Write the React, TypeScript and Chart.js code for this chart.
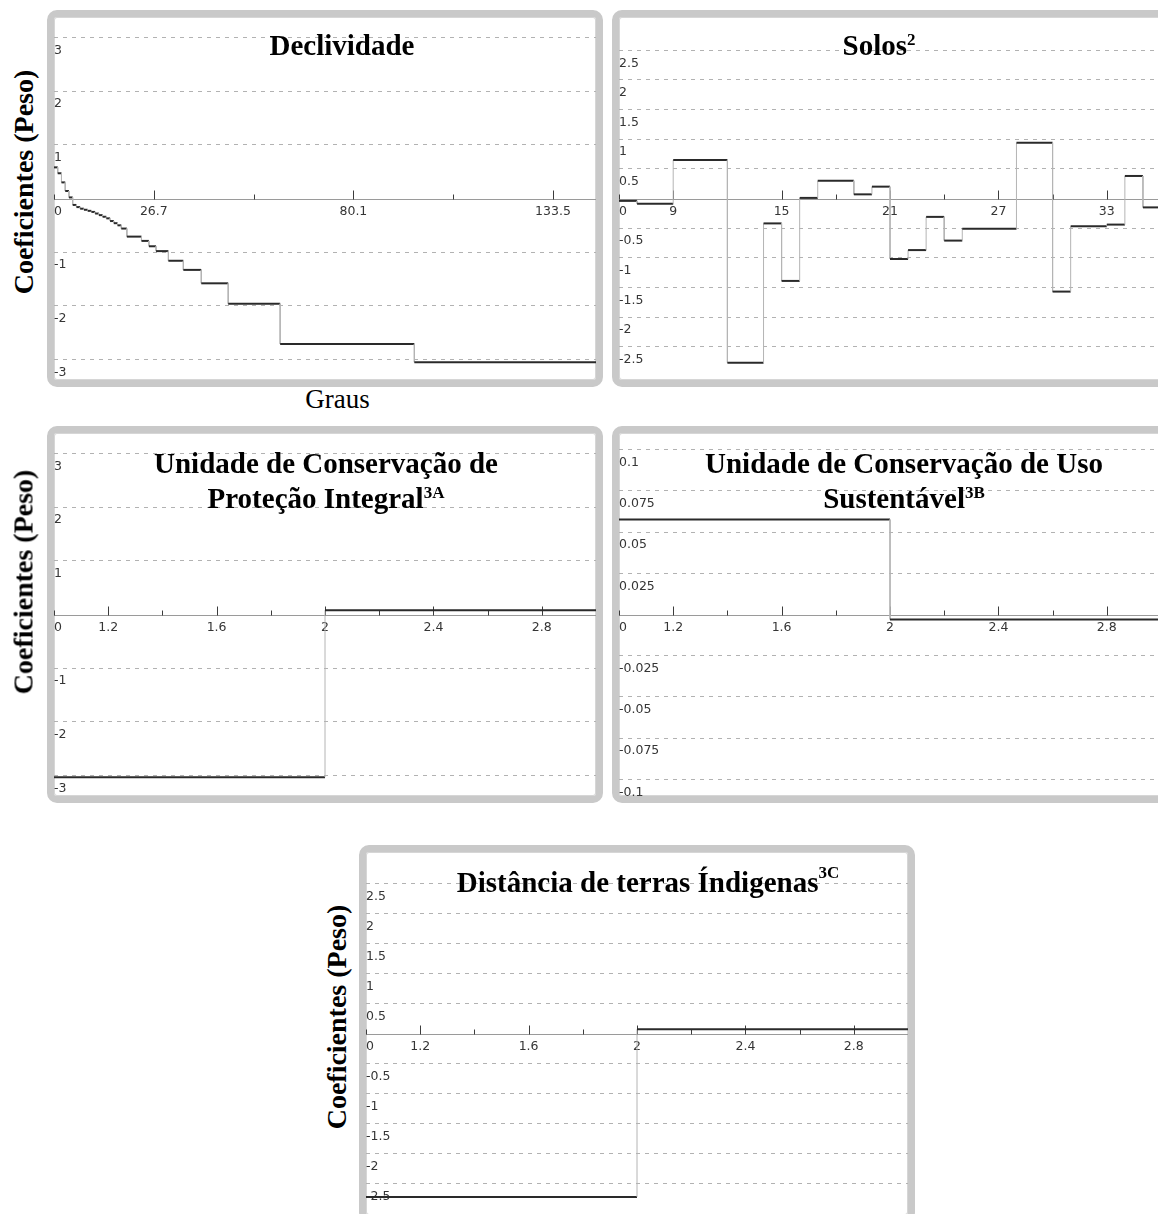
import React, { useEffect, useRef } from 'react';
import { Chart, registerables } from 'chart.js';

Chart.register(...registerables);

// ---------------- data ----------------
// Declividade (graus) – step starts, values, right end
const declividadeBreaks = [0, 1, 2, 3, 4, 5, 6, 7, 8, 9, 10, 11, 12, 13, 14, 15, 16, 17, 18, 19.5, 23.4, 25.4, 27.3, 30.6, 34.6, 39.4, 46.6, 60.5, 96.4];
const declividadeValues = [0.58, 0.47, 0.3, 0.14, 0.02, -0.12, -0.16, -0.19, -0.21, -0.23, -0.25, -0.28, -0.31, -0.34, -0.37, -0.42, -0.46, -0.5, -0.56, -0.71, -0.79, -0.89, -0.98, -1.16, -1.33, -1.58, -1.96, -2.71, -3.05];
const declividadeEnd = 145;
const declividadeXTicks = [0, 26.7, 53.4, 80.1, 106.8, 133.5];
const declividadeXLabels = ['', '26.7', '', '80.1', '', '133.5'];
const declividadeYTicks = [-3, -2, -1, 0, 1, 2, 3];
const declividadeYRange = [-3.38, 3.38];

// Solos
const solosBreaks = [6, 7, 9, 12, 14, 15, 16, 17, 19, 20, 21, 22, 23, 24, 25, 28, 30, 31, 33, 34, 35];
const solosValues = [-0.04, -0.09, 0.65, -2.77, -0.42, -1.39, 0.01, 0.3, 0.07, 0.2, -1.02, -0.87, -0.31, -0.71, -0.51, 0.94, -1.57, -0.47, -0.44, 0.38, -0.15];
const solosEnd = 36;
const solosXTicks = [6, 9, 12, 15, 18, 21, 24, 27, 30, 33, 36];
const solosXLabels = ['', '9', '', '15', '', '21', '', '27', '', '33', ''];
const solosYTicks = [-2.5, -2, -1.5, -1, -0.5, 0, 0.5, 1, 1.5, 2, 2.5];
const solosYRange = [-3.06, 3.06];

// Binary variables (classes 1 and 2)
const binaryBreaks = [1, 2];
const binaryEnd = 3;
const binaryXTicks = [1, 1.2, 1.4, 1.6, 1.8, 2, 2.2, 2.4, 2.6, 2.8, 3];
const binaryXLabels = ['', '1.2', '', '1.6', '', '2', '', '2.4', '', '2.8', ''];

const protecaoValues = [-3.03, 0.08];
const protecaoYTicks = [-3, -2, -1, 0, 1, 2, 3];
const protecaoYRange = [-3.38, 3.38];

const usoValues = [0.0576, -0.003];
const usoYTicks = [-0.1, -0.075, -0.05, -0.025, 0, 0.025, 0.05, 0.075, 0.1];
const usoYRange = [-0.11, 0.11];

const indigenasValues = [-2.72, 0.07];
const indigenasYTicks = [-2.5, -2, -1.5, -1, -0.5, 0, 0.5, 1, 1.5, 2, 2.5];
const indigenasYRange = [-3.02, 3.02];

// ---------------- styles ----------------
const STEP_DARK = '#2a2a2a';
const STEP_LIGHT = '#b4b4b4';
const GRID = '#b2b2b2';
const AXIS = '#9a9a9a';
const TICK_TXT = '#353535';
const FRAME_W = 556;
const FRAME_H = 377;
const BORDER = 7;
const TICK_FONT = '"DejaVu Sans", Verdana, sans-serif';

const axisPlugin = {
  id: 'stepAxis',
  beforeDatasetsDraw(chart: any) {
    const { ctx, chartArea } = chart;
    const xs = chart.scales.x;
    const ys = chart.scales.y;
    const y0 = Math.round(ys.getPixelForValue(0)) + 0.5;
    ctx.save();
    ctx.lineWidth = 1;
    ctx.strokeStyle = AXIS;
    ctx.beginPath();
    ctx.moveTo(chartArea.left, y0);
    ctx.lineTo(chartArea.right, y0);
    ctx.stroke();
    ctx.strokeStyle = '#3c3c3c';
    xs.ticks.forEach((t: any) => {
      const px = Math.round(xs.getPixelForValue(t.value)) + 0.5;
      const len = t.label ? 9 : 5;
      ctx.beginPath();
      ctx.moveTo(px, y0);
      ctx.lineTo(px, y0 - len);
      ctx.stroke();
    });
    ctx.restore();
  },
};

type PanelCfg = {
  breaks: number[];
  values: number[];
  end: number;
  xTicks: number[];
  xLabels: string[];
  yTicks: number[];
  yRange: number[];
};

function StepPanel({ left, top, cfg }: { left: number; top: number; cfg: PanelCfg }) {
  const ref = useRef<HTMLCanvasElement>(null);
  useEffect(() => {
    const pts: { x: number; y: number }[] = [];
    for (let i = 0; i < cfg.breaks.length; i++) {
      const next = i + 1 < cfg.breaks.length ? cfg.breaks[i + 1] : cfg.end;
      pts.push({ x: cfg.breaks[i], y: cfg.values[i] });
      pts.push({ x: next, y: cfg.values[i] });
    }
    const yVals = [cfg.yRange[0], ...cfg.yTicks, cfg.yRange[1]];
    const yLabs = ['', ...cfg.yTicks.map((v) => String(v)), ''];
    const isVert = (c: any) => c.p0.parsed.x === c.p1.parsed.x;
    const chart = new Chart(ref.current as HTMLCanvasElement, {
      type: 'line',
      data: {
        datasets: [
          {
            data: pts,
            borderColor: STEP_DARK,
            borderWidth: 2,
            pointRadius: 0,
            pointHoverRadius: 0,
            fill: false,
            tension: 0,
            segment: {
              borderColor: (c: any) => (isVert(c) ? STEP_LIGHT : STEP_DARK),
              borderWidth: (c: any) => (isVert(c) ? 1 : 2),
            },
          } as any,
        ],
      },
      options: {
        responsive: false,
        animation: false,
        devicePixelRatio: 1,
        events: [],
        layout: { padding: 0 },
        plugins: { legend: { display: false }, tooltip: { enabled: false }, title: { display: false } },
        scales: {
          x: {
            type: 'linear',
            min: cfg.xTicks[0],
            max: cfg.end,
            position: { y: 0 } as any,
            grid: { display: false, drawTicks: false },
            border: { display: false },
            afterBuildTicks: (s: any) => {
              s.ticks = cfg.xTicks.map((v) => ({ value: v }));
            },
            ticks: {
              autoSkip: false,
              maxRotation: 0,
              minRotation: 0,
              padding: 0,
              color: TICK_TXT,
              font: { family: TICK_FONT, size: 12.5, lineHeight: 2.1 },
              callback: (_v: any, i: number) => cfg.xLabels[i],
            },
          },
          y: {
            type: 'linear',
            position: 'left',
            min: cfg.yRange[0],
            max: cfg.yRange[1],
            grid: {
              drawTicks: false,
              lineWidth: 1,
              color: (c: any) =>
                !c.tick || c.tick.label === '' || c.tick.value === 0 ? 'rgba(0,0,0,0)' : GRID,
            },
            border: { display: false, dash: [4, 5] },
            afterBuildTicks: (s: any) => {
              s.ticks = yVals.map((v) => ({ value: v }));
            },
            ticks: {
              mirror: true,
              padding: 0,
              labelOffset: 13,
              autoSkip: false,
              color: TICK_TXT,
              font: { family: TICK_FONT, size: 12.5, lineHeight: 0.01 },
              callback: (_v: any, i: number) => yLabs[i],
            },
          },
        },
      },
      plugins: [axisPlugin],
    });
    return () => chart.destroy();
  }, []);
  return (
    <div
      style={{
        position: 'absolute',
        left,
        top,
        width: FRAME_W,
        height: FRAME_H,
        boxSizing: 'border-box',
        border: `${BORDER}px solid #c9c9c9`,
        borderRadius: 10,
        overflow: 'hidden',
        background: '#fff',
        boxShadow: 'inset 0 0 0 1px #d6d6d6',
      }}
    >
      <canvas
        ref={ref}
        width={FRAME_W - 2 * BORDER}
        height={FRAME_H - 2 * BORDER}
        style={{ display: 'block', width: FRAME_W - 2 * BORDER, height: FRAME_H - 2 * BORDER }}
      />
    </div>
  );
}

const SERIF = '"Liberation Serif", "Times New Roman", serif';

function Title({ cx, top, lines, sup, supRaise = 10 }: { cx: number; top: number; lines: string[]; sup: string; supRaise?: number }) {
  return (
    <div
      style={{
        position: 'absolute',
        left: cx - 400,
        top,
        width: 800,
        textAlign: 'center',
        fontFamily: SERIF,
        fontWeight: 'bold',
        fontSize: 29,
        lineHeight: '35px',
        color: '#000',
        whiteSpace: 'nowrap',
      }}
    >
      {lines.map((l, i) => (
        <div key={i}>
          {l}
          {i === lines.length - 1 && sup ? (
            <span style={{ fontSize: 17, verticalAlign: `${supRaise}px`, lineHeight: 0 }}>{sup}</span>
          ) : null}
        </div>
      ))}
    </div>
  );
}

function YLabel({ cx, cy }: { cx: number; cy: number }) {
  return (
    <div
      style={{
        position: 'absolute',
        left: cx,
        top: cy,
        transform: 'translate(-50%, -50%) rotate(-90deg)',
        fontFamily: SERIF,
        fontWeight: 'bold',
        fontSize: 28,
        lineHeight: '31px',
        whiteSpace: 'nowrap',
        color: '#000',
      }}
    >
      Coeficientes (Peso)
    </div>
  );
}

export default function App() {
  const declividade: PanelCfg = {
    breaks: declividadeBreaks,
    values: declividadeValues,
    end: declividadeEnd,
    xTicks: declividadeXTicks,
    xLabels: declividadeXLabels,
    yTicks: declividadeYTicks,
    yRange: declividadeYRange,
  };
  const solos: PanelCfg = {
    breaks: solosBreaks,
    values: solosValues,
    end: solosEnd,
    xTicks: solosXTicks,
    xLabels: solosXLabels,
    yTicks: solosYTicks,
    yRange: solosYRange,
  };
  const protecao: PanelCfg = {
    breaks: binaryBreaks,
    values: protecaoValues,
    end: binaryEnd,
    xTicks: binaryXTicks,
    xLabels: binaryXLabels,
    yTicks: protecaoYTicks,
    yRange: protecaoYRange,
  };
  const uso: PanelCfg = {
    breaks: binaryBreaks,
    values: usoValues,
    end: binaryEnd,
    xTicks: binaryXTicks,
    xLabels: binaryXLabels,
    yTicks: usoYTicks,
    yRange: usoYRange,
  };
  const indigenas: PanelCfg = {
    breaks: binaryBreaks,
    values: indigenasValues,
    end: binaryEnd,
    xTicks: binaryXTicks,
    xLabels: binaryXLabels,
    yTicks: indigenasYTicks,
    yRange: indigenasYRange,
  };

  return (
    <div
      style={{
        position: 'absolute',
        left: 0,
        top: 0,
        width: 1158,
        height: 1214,
        overflow: 'hidden',
        background: '#fff',
      }}
    >
      <StepPanel left={47} top={10} cfg={declividade} />
      <StepPanel left={612} top={10} cfg={solos} />
      <StepPanel left={47} top={426} cfg={protecao} />
      <StepPanel left={612} top={426} cfg={uso} />
      <StepPanel left={359} top={845} cfg={indigenas} />

      <Title cx={342} top={27.7} lines={['Declividade']} sup="" />
      <Title cx={879} top={27.7} lines={['Solos']} sup="2" />
      <Title cx={326} top={445.7} lines={['Unidade de Conservação de', 'Proteção Integral']} sup="3A" />
      <Title cx={904} top={445.7} lines={['Unidade de Conservação de Uso', 'Sustentável']} sup="3B" />
      <Title cx={648} top={864.7} lines={['Distância de terras Índigenas']} sup="3C" supRaise={14} />

      <div
        style={{
          position: 'absolute',
          left: 337.5 - 100,
          top: 382.9,
          width: 200,
          textAlign: 'center',
          fontFamily: SERIF,
          fontSize: 27,
          lineHeight: '32px',
          color: '#000',
        }}
      >
        Graus
      </div>

      <YLabel cx={22.5} cy={182} />
      <YLabel cx={22.5} cy={582} />
      <YLabel cx={336} cy={1017} />
    </div>
  );
}
